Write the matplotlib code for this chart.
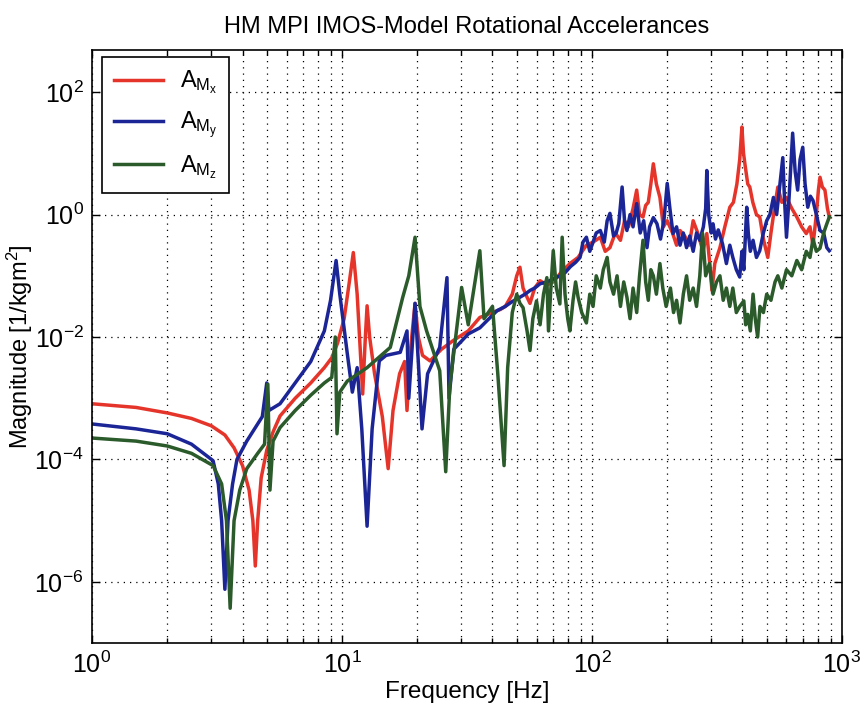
import numpy as np
import matplotlib
matplotlib.use("Agg")
import matplotlib.pyplot as plt
from matplotlib.ticker import LogLocator, NullLocator, NullFormatter

plt.rcParams['font.family'] = ['Liberation Sans', 'DejaVu Sans']
plt.rcParams['mathtext.fontset'] = 'custom'
plt.rcParams['mathtext.rm'] = 'Liberation Sans'
plt.rcParams['mathtext.it'] = 'Liberation Sans'

title = "HM MPI IMOS-Model Rotational Accelerances"
xlabel = "Frequency [Hz]"
ylabel = r"Magnitude [1/kgm$^2$]"
labels = [r"$\mathrm{A}_{\mathrm{M}_{\mathrm{x}}}$",
          r"$\mathrm{A}_{\mathrm{M}_{\mathrm{y}}}$",
          r"$\mathrm{A}_{\mathrm{M}_{\mathrm{z}}}$"]

# A_Mx (red): frequency [Hz] and log10 magnitude
freq_x = [1.0, 1.5, 2.0, 2.5, 3.0, 3.4, 3.7, 4.0, 4.25, 4.4, 4.5, 4.6, 4.75, 5.0, 5.3,
          5.65, 6.5, 7.5, 8.5, 9.1, 9.6, 10.2, 10.7, 11.1, 11.5, 12.1, 12.4, 12.6, 12.9,
          13.5, 14.5, 15.3, 16, 17, 17.8, 18.2, 18.8, 19.6, 20.2, 21, 22.5, 25, 27.8, 32,
          35.6, 40, 43, 45, 48, 50, 51.5, 53, 55, 56.5, 59, 62, 66, 70, 75, 81.6, 88, 95,
          101, 108, 113, 118, 124, 130, 135, 140, 146, 151, 155, 160, 164, 168, 172, 176,
          181, 187, 193, 200, 210, 218, 225, 235, 245, 254, 265, 278, 288, 296, 302, 310,
          325, 340, 356, 368, 380, 390, 398, 404, 410, 420, 428, 440, 455, 469, 485, 505,
          520, 537, 554, 575, 600, 630, 660, 690, 720, 745, 766, 790, 805, 817, 835, 855,
          875, 890]
logmag_x = [-3.09, -3.15, -3.24, -3.33, -3.45, -3.6, -3.81, -4.1, -4.5, -5.0, -5.74, -5.0,
            -4.3, -3.85, -3.55, -3.29, -3.0, -2.75, -2.5, -2.34, -2.1, -1.7, -1.1, -0.62,
            -1.3, -2.93, -2.0, -1.49, -2.0, -2.6, -3.3, -4.15, -3.2, -2.6, -2.4, -3.2, -2.2,
            -1.45, -2.0, -2.3, -2.39, -2.2, -2.06, -1.9, -1.68, -1.6, -1.55, -1.5, -1.3,
            -1.0, -0.86, -1.2, -1.35, -1.45, -1.2, -1.08, -1.15, -1.1, -0.95, -0.80, -0.7,
            -0.5, -0.45, -0.37, -0.6, -0.54, -0.3, -0.42, -0.1, -0.2, 0.1, 0.40, 0.0, -0.04,
            0.15, 0.2, 0.5, 0.83, 0.5, 0.28, -0.2, -0.1, -0.3, -0.5, -0.26, -0.35, -0.5,
            -0.1, -0.3, -0.6, -0.31, -0.8, -1.24, -0.8, -0.54, -0.2, 0.12, 0.2, 0.5, 0.9,
            1.43, 1.0, 0.8, 0.5, 0.45, 0.2, 0.0, -0.04, -0.4, -0.70, -0.3, 0.1, 0.45, 0.2,
            0.28, 0.1, -0.04, -0.2, -0.31, -0.2, -0.5, 0.0, 0.4, 0.61, 0.45, 0.4, 0.1, -0.04]

# A_My (blue)
freq_y = [1.0, 1.5, 2.0, 2.5, 3.05, 3.2, 3.3, 3.4, 3.5, 3.65, 3.8, 4.16, 4.8, 5.0, 5.1,
          5.65, 6.5, 7.5, 8.5, 9.0, 9.47, 9.8, 10.5, 11, 11.5, 12.0, 12.6, 13.2, 14.1, 15,
          17.1, 18.2, 18.5, 19.6, 20.9, 22, 24.6, 26.3, 26.8, 28, 32, 35.6, 41.7, 45, 48,
          51.5, 54, 56.5, 59, 62, 66, 70, 74.4, 78, 82, 86, 89.6, 92, 95, 98, 100, 104, 108,
          112, 115, 118, 122, 125, 128, 132, 135, 138, 142, 146, 151, 156, 161, 166, 170,
          176, 182, 188, 194, 200, 205, 211, 218, 225, 232, 239, 246, 254, 262, 270, 279,
          285, 288, 293, 300, 305, 312, 320, 333, 345, 356, 366, 378, 390, 398, 405, 416,
          422, 430, 441, 455, 469, 485, 500, 515, 532, 548, 565, 580, 590, 600, 615, 635,
          650, 665, 680, 697, 712, 730, 748, 766, 790, 817, 845, 870, 890]
logmag_y = [-3.42, -3.5, -3.58, -3.75, -4.02, -4.4, -5.0, -6.12, -5.0, -4.4, -4.0, -3.7,
            -3.3, -2.75, -3.2, -3.09, -2.75, -2.4, -1.9, -1.4, -0.75, -1.3, -2.27, -2.9,
            -2.5, -3.5, -5.09, -3.5, -2.39, -2.3, -2.25, -1.9, -3.0, -1.45, -3.5, -2.6,
            -2.17, -1.03, -3.0, -2.2, -1.95, -1.85, -1.57, -1.5, -1.42, -1.35, -1.3, -1.24,
            -1.2, -1.13, -1.1, -1.05, -1.0, -0.95, -0.85, -0.78, -0.70, -0.45, -0.37, -0.6,
            -0.5, -0.3, -0.26, -0.45, -0.1, 0.02, -0.35, -0.3, -0.15, 0.45, -0.1, -0.26, 0.0,
            -0.2, 0.18, -0.3, -0.1, -0.54, -0.2, -0.05, -0.15, -0.4, -0.1, 0.51, 0.1, -0.31,
            -0.2, -0.5, -0.3, -0.54, -0.35, -0.6, -0.3, -0.42, -0.2, 0.1, 0.72, 0.0, -0.3,
            -0.15, -0.4, -0.25, -0.48, -0.8, -0.5, -0.70, -0.9, -1.02, -0.6, -0.9, 0.12,
            -0.3, -0.6, -0.42, -0.7, -0.59, -0.3, -0.1, 0.0, 0.28, 0.0, 0.5, 0.93, 0.2,
            -0.37, 0.3, 1.33, 0.7, 0.40, 0.9, 1.1, 0.5, 0.12, 0.3, 0.23, 0.0, -0.26, -0.3,
            -0.54, -0.59]

# A_Mz (green)
freq_z = [1.0, 1.5, 2.0, 2.5, 3.05, 3.3, 3.45, 3.57, 3.7, 3.9, 4.16, 4.6, 4.9, 5.05, 5.15,
          5.3, 5.65, 6.5, 7.5, 8.5, 9.1, 9.4, 9.55, 9.8, 10.5, 12.6, 15.6, 17.5, 18.5,
          19.6, 20.5, 21.8, 24.6, 26, 27, 28.5, 30.1, 32, 35.6, 37, 40, 42, 44.5, 46, 48,
          50, 51.5, 53, 55, 56.5, 58, 60, 62, 64, 66, 67, 68.5, 70, 72, 74.4, 76, 78, 80,
          81.6, 84, 86, 88, 91, 95, 98, 101, 104, 108, 111, 115, 118, 122, 126, 130, 134,
          138, 142, 146, 151, 155, 160, 164, 168, 172, 176, 181, 187, 192, 198, 206, 212,
          218, 225, 232, 239, 246, 254, 262, 270, 277, 285, 295, 305, 315, 325, 335, 345,
          356, 366, 378, 390, 405, 412, 420, 430, 441, 450, 460, 470, 485, 500, 520, 540,
          554, 575, 600, 630, 660, 690, 720, 745, 766, 790, 817, 845, 870, 890]
logmag_z = [-3.65, -3.7, -3.78, -3.9, -4.1, -4.4, -5.0, -6.43, -5.0, -4.5, -4.15, -3.9,
            -3.75, -2.77, -4.5, -3.7, -3.48, -3.2, -2.95, -2.75, -2.66, -2.0, -3.58, -2.9,
            -2.72, -2.5, -2.17, -1.35, -1.0, -0.37, -1.5, -1.9, -2.55, -4.2, -2.8, -2.0,
            -1.19, -1.8, -0.59, -1.7, -1.5, -2.6, -4.1, -2.5, -1.6, -1.3, -1.45, -1.52,
            -1.9, -2.22, -1.7, -1.41, -1.8, -1.3, -1.03, -1.9, -1.2, -0.59, -1.2, -1.46,
            -0.37, -1.3, -1.7, -1.9, -1.4, -1.1, -1.35, -1.6, -1.77, -1.3, -1.5, -1.0, -1.2,
            -0.9, -0.70, -1.1, -1.3, -1.0, -1.5, -1.1, -1.35, -1.7, -1.2, -1.6, -1.0, -0.42,
            -1.1, -1.4, -0.9, -1.0, -1.3, -0.8, -1.2, -1.5, -1.2, -1.6, -1.4, -1.77, -1.3,
            -1.0, -1.4, -1.2, -1.5, -1.0, -0.31, -1.0, -0.8, -1.3, -1.1, -1.0, -1.4, -1.2,
            -1.5, -1.2, -1.6, -1.5, -1.41, -1.8, -1.63, -1.9, -1.3, -1.7, -2.0, -1.5, -1.6,
            -1.3, -1.4, -1.1, -1.0, -1.2, -0.9, -1.0, -0.75, -0.9, -0.6, -0.7, -0.4, -0.6,
            -0.55, -0.3, -0.15, -0.04]

colors = ['#e5352b', '#1b2596', '#2b5a2b']

fig = plt.figure(figsize=(8.6, 7.13), dpi=100)
ax = fig.add_axes([0.107, 0.098, 0.872, 0.832])

series = [(freq_x, logmag_x), (freq_y, logmag_y), (freq_z, logmag_z)]
for (f, lm), c, lab in zip(series, colors, labels):
    ax.loglog(f, 10.0 ** np.array(lm), color=c, lw=2.5, label=lab)

ax.set_xlim(1, 1000)
ax.set_ylim(1e-7, 10 ** 2.69)
ax.set_yticks([1e-6, 1e-4, 1e-2, 1e0, 1e2])
ax.yaxis.set_minor_locator(NullLocator())
ax.xaxis.set_major_locator(LogLocator(base=10, numticks=10))
ax.xaxis.set_minor_locator(LogLocator(base=10, subs=np.arange(2, 10), numticks=20))
ax.xaxis.set_minor_formatter(NullFormatter())

ax.grid(True, which='major', axis='both', color='black', linestyle=(0, (1, 4)), lw=0.9)
ax.grid(True, which='minor', axis='x', color='black', linestyle=(0, (1, 4)), lw=0.9)

ax.tick_params(which='both', direction='in', top=True, right=True, width=1.0)
ax.tick_params(which='major', length=6, labelsize=18, pad=6)
ax.tick_params(which='minor', length=3.5)
for s in ax.spines.values():
    s.set_linewidth(1.2)

ax.set_title(title, fontsize=17, pad=12)
ax.set_xlabel(xlabel, fontsize=17.5, labelpad=2)
ax.set_ylabel(ylabel, fontsize=17)
ax.yaxis.set_label_coords(-0.076, 0.5)

leg = ax.legend(loc='upper left', bbox_to_anchor=(0.013, 0.988), borderaxespad=0,
                fontsize=17, frameon=True, fancybox=False, framealpha=1,
                edgecolor='black', handlelength=2.1, labelspacing=0.55,
                borderpad=0.5, handletextpad=0.7)
leg.get_frame().set_linewidth(1.2)

fig.savefig("out.png", dpi=100)
